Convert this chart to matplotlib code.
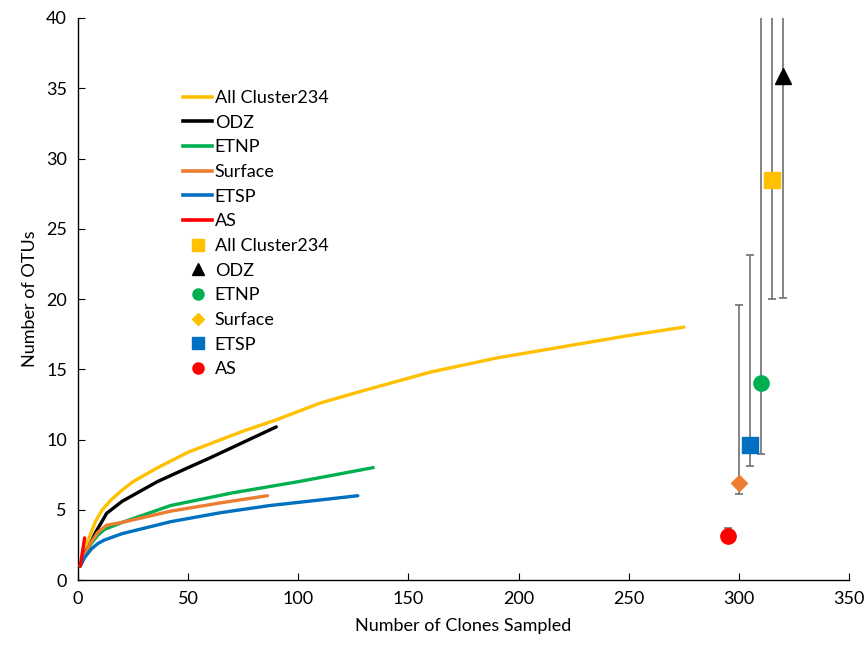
import matplotlib.pyplot as plt
from matplotlib.lines import Line2D

# rarefaction curves (clones sampled, OTUs)
all_x = [1, 3, 5, 8, 11, 15, 20, 25, 35, 50, 60, 75, 90, 110, 130, 160, 190, 220, 250, 275]
all_y = [1, 2.3, 3.0, 4.2, 5.0, 5.7, 6.4, 7.0, 7.9, 9.1, 9.7, 10.6, 11.4, 12.6, 13.5, 14.8, 15.8, 16.6, 17.4, 18.0]
odz_x = [1, 3, 5, 8, 13, 20, 36, 50, 60, 75, 90]
odz_y = [1, 1.9, 2.4, 3.4, 4.75, 5.6, 7.0, 8.0, 8.7, 9.8, 10.9]
etnp_x = [1, 3, 6, 9, 12, 20, 42, 70, 100, 134]
etnp_y = [1, 1.8, 2.6, 3.2, 3.6, 4.1, 5.3, 6.2, 7.0, 8.0]
surf_x = [1, 3, 6, 9, 13, 20, 42, 65, 86]
surf_y = [1, 1.8, 2.7, 3.4, 3.9, 4.1, 4.9, 5.5, 6.0]
etsp_x = [1, 3, 6, 9, 12, 20, 42, 65, 87, 110, 127]
etsp_y = [1, 1.6, 2.2, 2.6, 2.85, 3.3, 4.15, 4.8, 5.3, 5.7, 6.0]
as_x = [1, 2, 3]
as_y = [1, 2.0, 3.0]

# estimated richness points with asymmetric error bars
pt_names = ["AS", "Surface", "ETSP", "ETNP", "All Cluster234", "ODZ"]
pt_x = [295, 300, 305, 310, 315, 320]
pt_y = [3.1, 6.9, 9.6, 14.0, 28.5, 35.9]
pt_lo = [2.7, 6.1, 8.1, 9.0, 20.0, 20.1]
pt_hi = [3.7, 19.6, 23.1, 45.0, 45.0, 45.0]

YEL = "#FFC000"
GRN = "#00B050"
ORG = "#ED7D31"
BLU = "#0070C0"
RED = "#FF0000"

plt.rcParams['font.family'] = ['Lato', 'DejaVu Sans']

fig = plt.figure(figsize=(8.68, 6.52), dpi=100)
ax = fig.add_axes([0.0899, 0.1104, 0.8883, 0.862])

lw = 2.4
ax.plot(all_x, all_y, color=YEL, lw=lw, solid_capstyle="round", zorder=3)
ax.plot(odz_x, odz_y, color="black", lw=lw, solid_capstyle="round", zorder=3)
ax.plot(etnp_x, etnp_y, color=GRN, lw=lw, solid_capstyle="round", zorder=3)
ax.plot(surf_x, surf_y, color=ORG, lw=lw, solid_capstyle="round", zorder=3)
ax.plot(etsp_x, etsp_y, color=BLU, lw=lw, solid_capstyle="round", zorder=3)
ax.plot(as_x, as_y, color=RED, lw=lw, solid_capstyle="round", zorder=3)

styles = {
    "AS": dict(marker="o", color=RED, ms=11),
    "Surface": dict(marker="D", color=ORG, ms=8.5),
    "ETSP": dict(marker="s", color=BLU, ms=11),
    "ETNP": dict(marker="o", color=GRN, ms=11),
    "All Cluster234": dict(marker="s", color=YEL, ms=11),
    "ODZ": dict(marker="^", color="black", ms=12),
}
for name, x, y, lo, hi in zip(pt_names, pt_x, pt_y, pt_lo, pt_hi):
    st = styles[name]
    ax.errorbar([x], [y], yerr=[[y - lo], [hi - y]], fmt="none",
                ecolor="#707070", elinewidth=1.2, capsize=3, capthick=1.2, zorder=2)
    ax.plot([x], [y], linestyle="none", marker=st["marker"], color=st["color"],
            markersize=st["ms"], markeredgecolor=st["color"], zorder=4)

ax.set_xlim(0, 350)
ax.set_ylim(0, 40)
ax.set_xticks(range(0, 351, 50))
ax.set_yticks(range(0, 41, 5))
ax.tick_params(direction="in", length=5, labelsize=13, pad=8)
for s in ["top", "right"]:
    ax.spines[s].set_visible(False)
ax.spines["left"].set_linewidth(1.0)
ax.spines["bottom"].set_linewidth(1.0)
ax.set_xlabel("Number of Clones Sampled", fontsize=13, labelpad=8)
ax.set_ylabel("Number of OTUs", fontsize=13, labelpad=6)

handles = [
    Line2D([], [], color=YEL, lw=2.6),
    Line2D([], [], color="black", lw=2.6),
    Line2D([], [], color=GRN, lw=2.6),
    Line2D([], [], color=ORG, lw=2.6),
    Line2D([], [], color=BLU, lw=2.6),
    Line2D([], [], color=RED, lw=2.6),
    Line2D([], [], ls="none", marker="s", color=YEL, ms=8),
    Line2D([], [], ls="none", marker="^", color="black", ms=8),
    Line2D([], [], ls="none", marker="o", color=GRN, ms=8),
    Line2D([], [], ls="none", marker="D", color=YEL, ms=6.5),
    Line2D([], [], ls="none", marker="s", color=BLU, ms=8),
    Line2D([], [], ls="none", marker="o", color=RED, ms=8),
]
labels = ["All Cluster234", "ODZ", "ETNP", "Surface", "ETSP", "AS",
          "All Cluster234", "ODZ", "ETNP", "Surface", "ETSP", "AS"]
ax.legend(handles, labels, loc="upper left", bbox_to_anchor=(0.127, 0.885),
          frameon=False, fontsize=13, handlelength=1.6, handletextpad=0.15,
          labelspacing=0.48, borderaxespad=0)

fig.savefig("out.png", dpi=100)
